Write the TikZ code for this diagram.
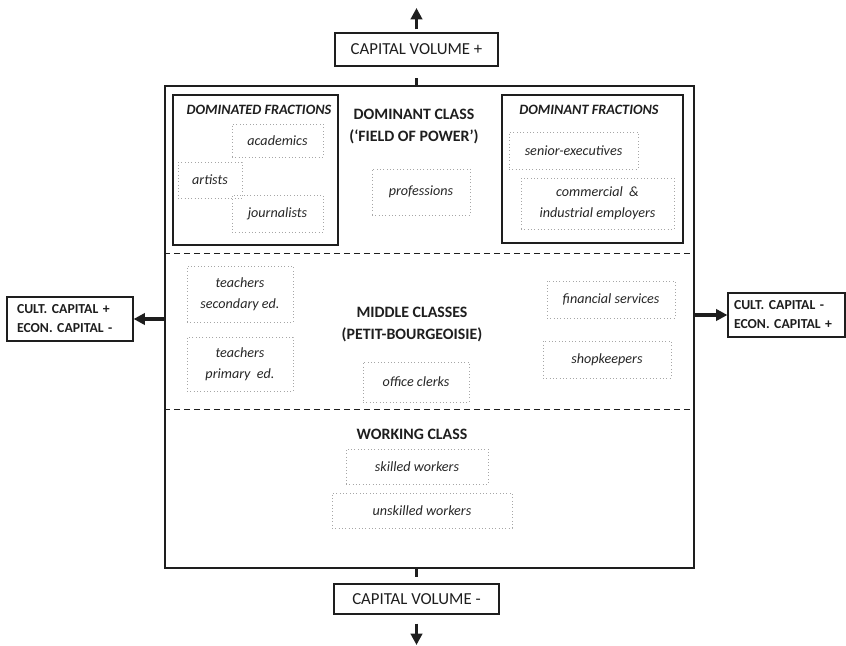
\documentclass[tikz,border=0pt]{standalone}
\usepackage{fontspec}
\setmainfont{Carlito}
\usetikzlibrary{arrows.meta,positioning}
\definecolor{inkgray}{HTML}{1E1E1E}
\tikzstyle{field} = [rectangle, draw=inkgray, line width=1.5pt, inner sep=0pt]
\tikzstyle{capbox} = [rectangle, draw=inkgray, line width=0.9pt, inner sep=0pt,
    text=inkgray, font=\fontsize{12.6}{15}\selectfont]
\tikzstyle{sidebox} = [rectangle, draw=inkgray, line width=0.9pt,
    inner xsep=7.5pt, inner ysep=0pt, text=inkgray, align=left,
    font=\bfseries\fontsize{10.3}{14.2}\selectfont]
\tikzstyle{line} = [draw=inkgray, line width=2.3pt, -{Triangle[length=8.5pt,width=8.5pt]}]
\tikzset{
  fraction/.style={
    rectangle,
    draw=inkgray, line width=1pt,
    inner sep=0pt},
  group/.style={
    rectangle,
    draw=black!35, dotted, line width=0.5pt,
    inner sep=0pt,
    text=black!85, align=center,
    font=\itshape\fontsize{10.6}{15.5}\selectfont},
  classname/.style={
    text=inkgray, align=center,
    font=\bfseries\fontsize{11.9}{16.5}\selectfont},
  fracname/.style={
    text=inkgray,
    font=\bfseries\itshape\fontsize{10.7}{12}\selectfont},
  divider/.style={draw=inkgray, dashed, line width=0.7pt,
    dash pattern=on 4.5pt off 3pt},
  tick/.style={draw=inkgray, line width=2.3pt},
}

\begin{document}
\begin{tikzpicture}[x=0.75pt, y=-0.75pt]
    \useasboundingbox (0,0) rectangle (846,646);
    % Place nodes
    \node [field, minimum width=529*0.75pt, minimum height=482*0.75pt] (field) at (429.5,327) {};
    \node [capbox, minimum width=163*0.75pt, minimum height=33*0.75pt] (volplus) at (416.5,49.5) {CAPITAL VOLUME +};
    \node [capbox, minimum width=165*0.75pt, minimum height=30*0.75pt] (volminus) at (416.5,599) {CAPITAL VOLUME -};
    \node [sidebox, text width=106*0.75pt, minimum height=44*0.75pt] (cultplus) at (70,319) {CULT. CAPITAL +\\ECON. CAPITAL -};
    \node [sidebox, inner xsep=6*0.75pt, text width=105*0.75pt, minimum height=44*0.75pt] (cultminus) at (786.5,315) {CULT. CAPITAL -\\ECON. CAPITAL +};
    \coordinate (topend) at (416.5,8);
    \coordinate (botend) at (416.5,645);

    % dominant class
    \node [fraction, minimum width=165*0.75pt, minimum height=150*0.75pt] (dominated) at (255.5,170) {};
    \node [fraction, minimum width=181*0.75pt, minimum height=148*0.75pt] (dominant) at (592.5,169) {};
    \node [fracname] (dominatedname) at (259,110) {DOMINATED FRACTIONS};
    \node [fracname] (dominantname) at (589,110) {DOMINANT FRACTIONS};
    \node [classname] (dominantclass) at (414,126) {DOMINANT CLASS\\(‘FIELD OF POWER’)};
    \node [group, minimum width=91*0.75pt, minimum height=33*0.75pt] (academics) at (277.5,140.5) {academics};
    \node [group, minimum width=64*0.75pt, minimum height=36*0.75pt] (artists) at (210,180) {artists};
    \node [group, minimum width=91*0.75pt, minimum height=37*0.75pt] (journalists) at (277.5,213.5) {journalists};
    \node [group, minimum width=98*0.75pt, minimum height=46*0.75pt] (professions) at (421,192) {professions};
    \node [group, minimum width=129*0.75pt, minimum height=37*0.75pt] (seniorExec) at (573.5,150.5) {senior-executives};
    \node [group, minimum width=153*0.75pt, minimum height=51*0.75pt] (employers) at (597.5,203.5) {commercial~~\&\\industrial employers};

    % middle classes
    \node [classname] (middleclasses) at (412,324.5) {MIDDLE CLASSES\\(PETIT-BOURGEOISIE)};
    \node [group, minimum width=106*0.75pt, minimum height=56*0.75pt] (teachersSec) at (240,294) {teachers\\secondary ed.};
    \node [group, minimum width=106*0.75pt, minimum height=54*0.75pt] (teachersPrim) at (240,364) {teachers\\primary~ ed.};
    \node [group, minimum width=128*0.75pt, minimum height=37*0.75pt] (financial) at (611,299.5) {financial services};
    \node [group, minimum width=128*0.75pt, minimum height=37*0.75pt] (shopkeepers) at (607,359.5) {shopkeepers};
    \node [group, minimum width=106*0.75pt, minimum height=40*0.75pt] (clerks) at (416,382) {office clerks};

    % working class
    \node [classname] (workingclass) at (412,434) {WORKING CLASS};
    \node [group, minimum width=142*0.75pt, minimum height=35*0.75pt] (skilled) at (417,466.5) {skilled workers};
    \node [group, minimum width=180*0.75pt, minimum height=35*0.75pt] (unskilled) at (422,510.5) {unskilled workers};

    % Draw edges
    \path [divider] (field.west |- 0,253) -- (field.east |- 0,253);
    \path [divider] (field.west |- 0,409) -- (field.east |- 0,409);
    \path [tick, shorten >=11*0.75pt] (volplus.south |- field.north) -- (volplus.south);
    \path [tick, shorten >=6*0.75pt] (volminus.north |- field.south) -- (volminus.north);
    \path [line, shorten <=3*0.75pt] (volplus.north) -- (topend);
    \path [line, shorten <=9*0.75pt] (volminus.south) -- (botend);
    \path [line] (field.west |- cultplus.east) -- (cultplus.east);
    \path [line] (field.east |- cultminus.west) -- (cultminus.west);
\end{tikzpicture}
\end{document}
